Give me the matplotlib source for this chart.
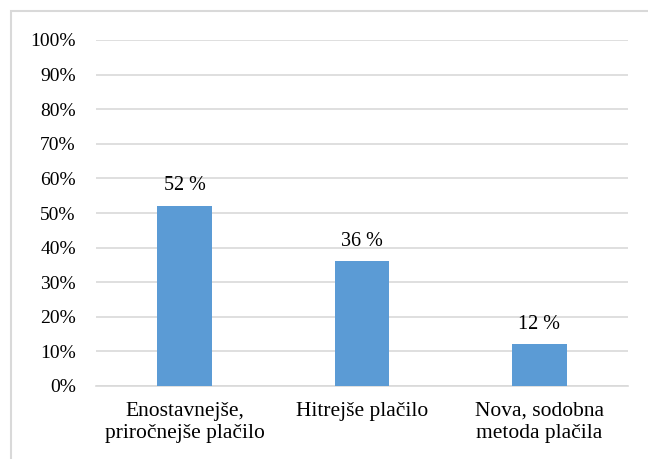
import matplotlib
matplotlib.use("Agg")
import matplotlib.pyplot as plt
from matplotlib.patches import Rectangle
from matplotlib.ticker import MultipleLocator, FuncFormatter

categories = ["Enostavnejše,\npriročnejše plačilo", "Hitrejše plačilo", "Nova, sodobna\nmetoda plačila"]
values = [52, 36, 12]
value_labels = ["52 %", "36 %", "12 %"]

plt.rcParams["font.family"] = ["Liberation Serif", "DejaVu Serif"]

fig = plt.figure(figsize=(6.48, 4.59), dpi=100)
# outer chart frame
fig.patches.append(Rectangle((11 / 648, -0.05), 1.0, 1 - 11 / 459 + 0.05,
                             transform=fig.transFigure, fill=False,
                             edgecolor="#d9d9d9", linewidth=1.5))

ax = fig.add_axes([96 / 648, 1 - 386 / 459, (628 - 96) / 648, (386 - 40) / 459])
x = range(len(categories))
ax.bar(x, values, width=0.31, color="#5b9bd5", zorder=3)
for xi, v, lab in zip(x, values, value_labels):
    ax.text(xi, v + 4.6, lab, ha="center", va="baseline", fontsize=14.5, color="#000000")

ax.set_xlim(-0.5, 2.5)
ax.set_ylim(0, 100)
ax.yaxis.set_major_locator(MultipleLocator(10))
ax.yaxis.set_major_formatter(FuncFormatter(lambda v, p: f"{int(v)}%"))
ax.set_xticks(list(x))
ax.set_xticklabels(categories, fontsize=15.5, linespacing=1.2)
ax.tick_params(axis="y", labelsize=14, length=0, pad=14.5)
ax.tick_params(axis="x", length=0, pad=11.5)
ax.grid(axis="y", color="#d9d9d9", linewidth=1.2, zorder=0)
for s in ["top", "right", "left"]:
    ax.spines[s].set_visible(False)
ax.spines["bottom"].set_color("#d9d9d9")
ax.spines["bottom"].set_linewidth(1.2)

fig.savefig("out.png", dpi=100)
